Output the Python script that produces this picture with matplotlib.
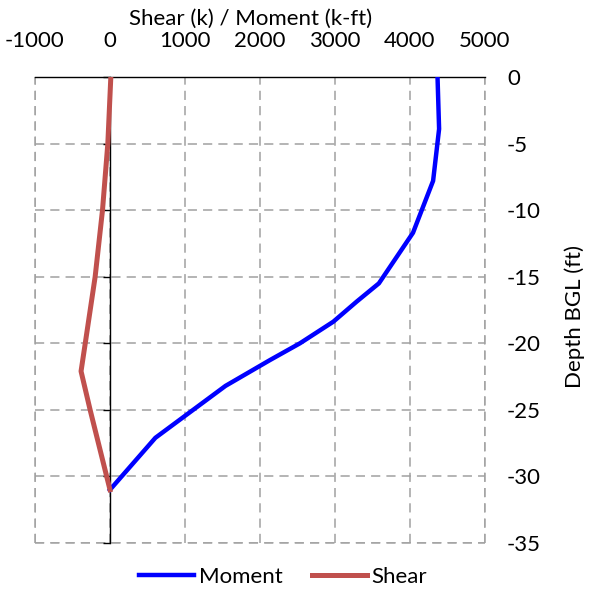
import matplotlib
matplotlib.use("Agg")
import matplotlib.pyplot as plt
import matplotlib.transforms as mtransforms

plt.rcParams['font.family'] = ['Lato', 'DejaVu Sans']
plt.rcParams['axes.unicode_minus'] = False

# Data
moment_depth = [0, -3.9, -7.8, -11.7, -15.5, -16.87, -18.38, -20.0, -21.26, -23.2, -27.1, -31.0]
moment_vals = [4367, 4388, 4308, 4040, 3585, 3289, 2977, 2533, 2133, 1540, 605, 0]

shear_depth = [0, -5, -10, -15, -20, -22.1, -25, -31.0]
shear_vals = [11, -29, -100, -198, -330, -386, -265, 0]

x_ticks = [-1000, 0, 1000, 2000, 3000, 4000, 5000]
y_ticks = [0, -5, -10, -15, -20, -25, -30, -35]

FS = 16

fig = plt.figure(figsize=(5.92, 5.92), dpi=100)
ax = fig.add_axes([35/592, 1-543/592, 450/592, 466/592])

ax.set_xlim(-1000, 5000)
ax.set_ylim(-35, 0)
ax.set_xticks(x_ticks)
ax.set_yticks(y_ticks)

grid_kw = dict(color='#a0a0a0', linewidth=1.1, linestyle=(0, (6, 4)))
ax.grid(True, **grid_kw)
ax.set_axisbelow(True)

ax.plot(moment_vals, moment_depth, color='#0000ff', lw=3.2, label='Moment', zorder=3)
ax.plot(shear_vals, shear_depth, color='#c0504d', lw=3.6, label='Shear', zorder=3)

# spines
ax.spines['left'].set_position(('data', 0))
ax.spines['left'].set_color('black')
ax.spines['left'].set_linewidth(1.0)
ax.spines['right'].set_visible(False)
ax.spines['bottom'].set_visible(False)
ax.spines['top'].set_color('black')
ax.spines['top'].set_linewidth(1.0)

# edge gridlines visible as dashed frame
ax.axvline(-1000, clip_on=False, zorder=0, **grid_kw)
ax.axvline(5000, clip_on=False, zorder=0, **grid_kw)
ax.axhline(-35, clip_on=False, zorder=0, **grid_kw)

ax.xaxis.set_ticks_position('top')
ax.xaxis.set_label_position('top')
ax.tick_params(axis='x', which='both', top=True, bottom=False, labeltop=True, labelbottom=False,
               length=0, pad=19, labelsize=FS)
ax.tick_params(axis='y', which='both', left=True, right=False, labelleft=False, labelright=True,
               direction='out', length=5, width=1, color='black', labelsize=FS, pad=0)
offset = mtransforms.ScaledTranslation(15/100, 0, fig.dpi_scale_trans)
for lab in ax.get_yticklabels():
    lab.set_horizontalalignment('left')
    lab.set_transform(lab.get_transform() + offset)

ax.set_xlabel('Shear (k) / Moment (k-ft)', fontsize=FS, labelpad=4)
ax.xaxis.label.set_x(0.478)
fig.text(575/592, 1-316/592, 'Depth BGL (ft)', rotation=90, ha='center', va='center', fontsize=FS)

fig.legend(loc='center', bbox_to_anchor=(283/592, 1-577/592), ncol=2, frameon=False,
           fontsize=FS, handlelength=2.5, handletextpad=0.2, columnspacing=1.3)

fig.savefig('out.png', dpi=100)
